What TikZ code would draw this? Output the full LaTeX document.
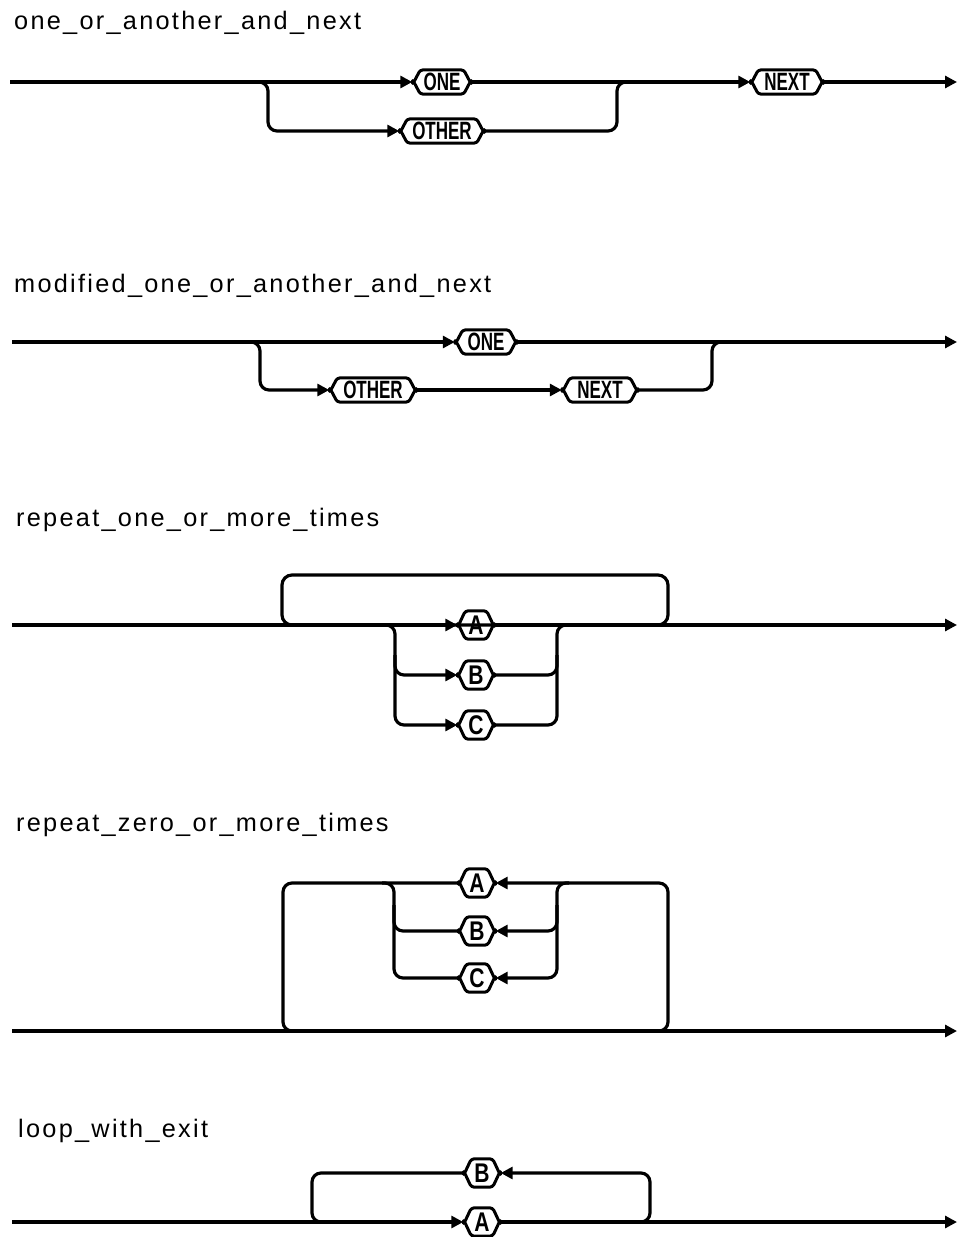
\documentclass[tikz,border=0pt]{standalone}
\usepackage{fontspec}
\newfontfamily\titlefont[LetterSpace=9]{Liberation Sans}
\newfontfamily\termfont[FakeStretch=0.68]{Liberation Sans}
\newfontfamily\letterfont[FakeStretch=0.78]{Liberation Sans}
\usetikzlibrary{arrows.meta,calc}
\begin{document}
\begin{tikzpicture}[x=1pt,y=-1pt,
  rail/.style={line width=3.2pt, line join=round},
  rr/.style={rail, rounded corners=9pt},
  tip/.style={-{Triangle[length=12pt,width=12pt]}},
  title/.style={anchor=base west, inner sep=0pt, font=\titlefont\fontsize{25.3}{28}\selectfont},
  word/.style={inner sep=0pt, minimum height=24pt, font=\termfont\bfseries\fontsize{25}{25}\selectfont},
  letter/.style={inner sep=0pt, minimum height=28pt, minimum width=37pt, font=\letterfont\bfseries\fontsize{27}{27}\selectfont},
  outline/.style={line width=3pt, rounded corners=3pt, line join=round}]
\useasboundingbox (0,0) rectangle (957,1237);

% ---------------- titles
\node[title] (t1) at (14,29)   {one\_or\_another\_and\_next};
\node[title] (t2) at (14,292)  {modified\_one\_or\_another\_and\_next};
\node[title] (t3) at (16,526)  {repeat\_one\_or\_more\_times};
\node[title] (t4) at (16,831)  {repeat\_zero\_or\_more\_times};
\node[title] (t5) at (18,1137) {loop\_with\_exit};

% ---------------- diagram 1
\node[word, minimum width=59pt] (one1)   at (442,82)  {ONE};
\node[word, minimum width=85pt] (other1) at (442,131) {OTHER};
\node[word, minimum width=73pt] (next1)  at (787,82)  {NEXT};
\coordinate (s1) at (10,82);
\coordinate (e1) at (957,82);
\coordinate (b1l) at (256,82);
\coordinate (b1x) at (268,131);
\coordinate (b1y) at (617,131);
\coordinate (b1r) at (629,82);
\draw[rail,tip] (s1) -- (one1);
\draw[rail,tip] (one1) -- (next1);
\draw[rail,tip] (next1) -- (e1);
\draw[rr,tip] (b1l) -| (b1x) -- (other1);
\draw[rr] (other1) -- (b1y) |- (b1r);

% ---------------- diagram 2
\node[word, minimum width=62pt] (one2)   at (486,342) {ONE};
\node[word, minimum width=87pt] (other2) at (373,390) {OTHER};
\node[word, minimum width=76pt] (next2)  at (600,390) {NEXT};
\coordinate (s2) at (12,342);
\coordinate (e2) at (957,342);
\coordinate (b2l) at (248,342);
\coordinate (b2x) at (260,390);
\coordinate (b2y) at (712,390);
\coordinate (b2r) at (724,342);
\draw[rail,tip] (s2) -- (one2);
\draw[rail,tip] (one2) -- (e2);
\draw[rr,tip] (b2l) -| (b2x) -- (other2);
\draw[rail,tip] (other2) -- (next2);
\draw[rr] (next2) -- (b2y) |- (b2r);

% ---------------- diagram 3
\node[letter] (a3) at (476,625) {A};
\node[letter] (b3) at (476,675) {B};
\node[letter] (c3) at (476,725) {C};
\coordinate (s3) at (12,625);
\coordinate (e3) at (957,625);
\coordinate (l3a) at (282,575);
\coordinate (l3b) at (668,625);
\draw[rail, rounded corners=10pt] (l3a) rectangle (l3b);
\draw[rail,tip] (s3) -- (a3);
\draw[rail,tip] (a3) -- (e3);
\coordinate (c3a) at (383,625);
\coordinate (c3b) at (395,725);
\coordinate (c3m) at (395,655);
\coordinate (d3b) at (557,725);
\coordinate (d3m) at (557,655);
\coordinate (d3a) at (569,625);
\draw[rr,tip] (c3a) -| (c3b) -- (c3);
\draw[rr,tip] (c3m) |- (b3);
\draw[rr] (c3) -- (d3b) |- (d3a);
\draw[rr] (b3) -| (d3m);

% ---------------- diagram 4
\node[letter] (a4) at (477,883) {A};
\node[letter] (b4) at (477,931) {B};
\node[letter] (c4) at (477,978) {C};
\coordinate (s4) at (12,1031);
\coordinate (e4) at (957,1031);
\draw[rail,tip] (s4) -- (e4);
\coordinate (l4)  at (283,1031);
\coordinate (l4r) at (300,1031);
\coordinate (r4l) at (650,1031);
\coordinate (r4)  at (668,1031);
\draw[rr] (a4) -| (l4) -- (l4r);
\draw[rr,tip] (r4l) -- (r4) |- (a4);
\coordinate (i4t) at (569,883);
\coordinate (i4b) at (557,978);
\coordinate (i4m) at (557,905);
\coordinate (j4t) at (382,883);
\coordinate (j4b) at (394,978);
\coordinate (j4m) at (394,905);
\draw[rr,tip] (i4t) -| (i4b) -- (c4);
\draw[rr,tip] (i4m) |- (b4);
\draw[rr] (c4) -- (j4b) |- (j4t);
\draw[rr] (b4) -| (j4m);

% ---------------- diagram 5
\node[letter] (a5) at (482,1222) {A};
\node[letter] (b5) at (482,1173) {B};
\coordinate (s5) at (12,1222);
\coordinate (e5) at (957,1222);
\draw[rail,tip] (s5) -- (a5);
\draw[rail,tip] (a5) -- (e5);
\coordinate (r5l) at (632,1222);
\coordinate (r5)  at (650,1222);
\coordinate (l5)  at (312,1222);
\coordinate (l5r) at (330,1222);
\draw[rr,tip] (r5l) -- (r5) |- (b5);
\draw[rr] (b5) -| (l5) -- (l5r);

% ---------------- node outlines
\foreach \n/\c in {one1/8,other1/8,next1/8,one2/8,other2/8,next2/8,a3/8,b3/8,c3/8,a4/8,b4/8,c4/8,a5/8,b5/8}
  \draw[outline] ($(\n.west)+(0,3)$) -- ($(\n.north west)+(\c,0)$) -- ($(\n.north east)+(-\c,0)$)
    -- ($(\n.east)+(0,3)$) -- ($(\n.east)+(0,-3)$) -- ($(\n.south east)+(-\c,0)$)
    -- ($(\n.south west)+(\c,0)$) -- ($(\n.west)+(0,-3)$) -- cycle;
\end{tikzpicture}
\end{document}
